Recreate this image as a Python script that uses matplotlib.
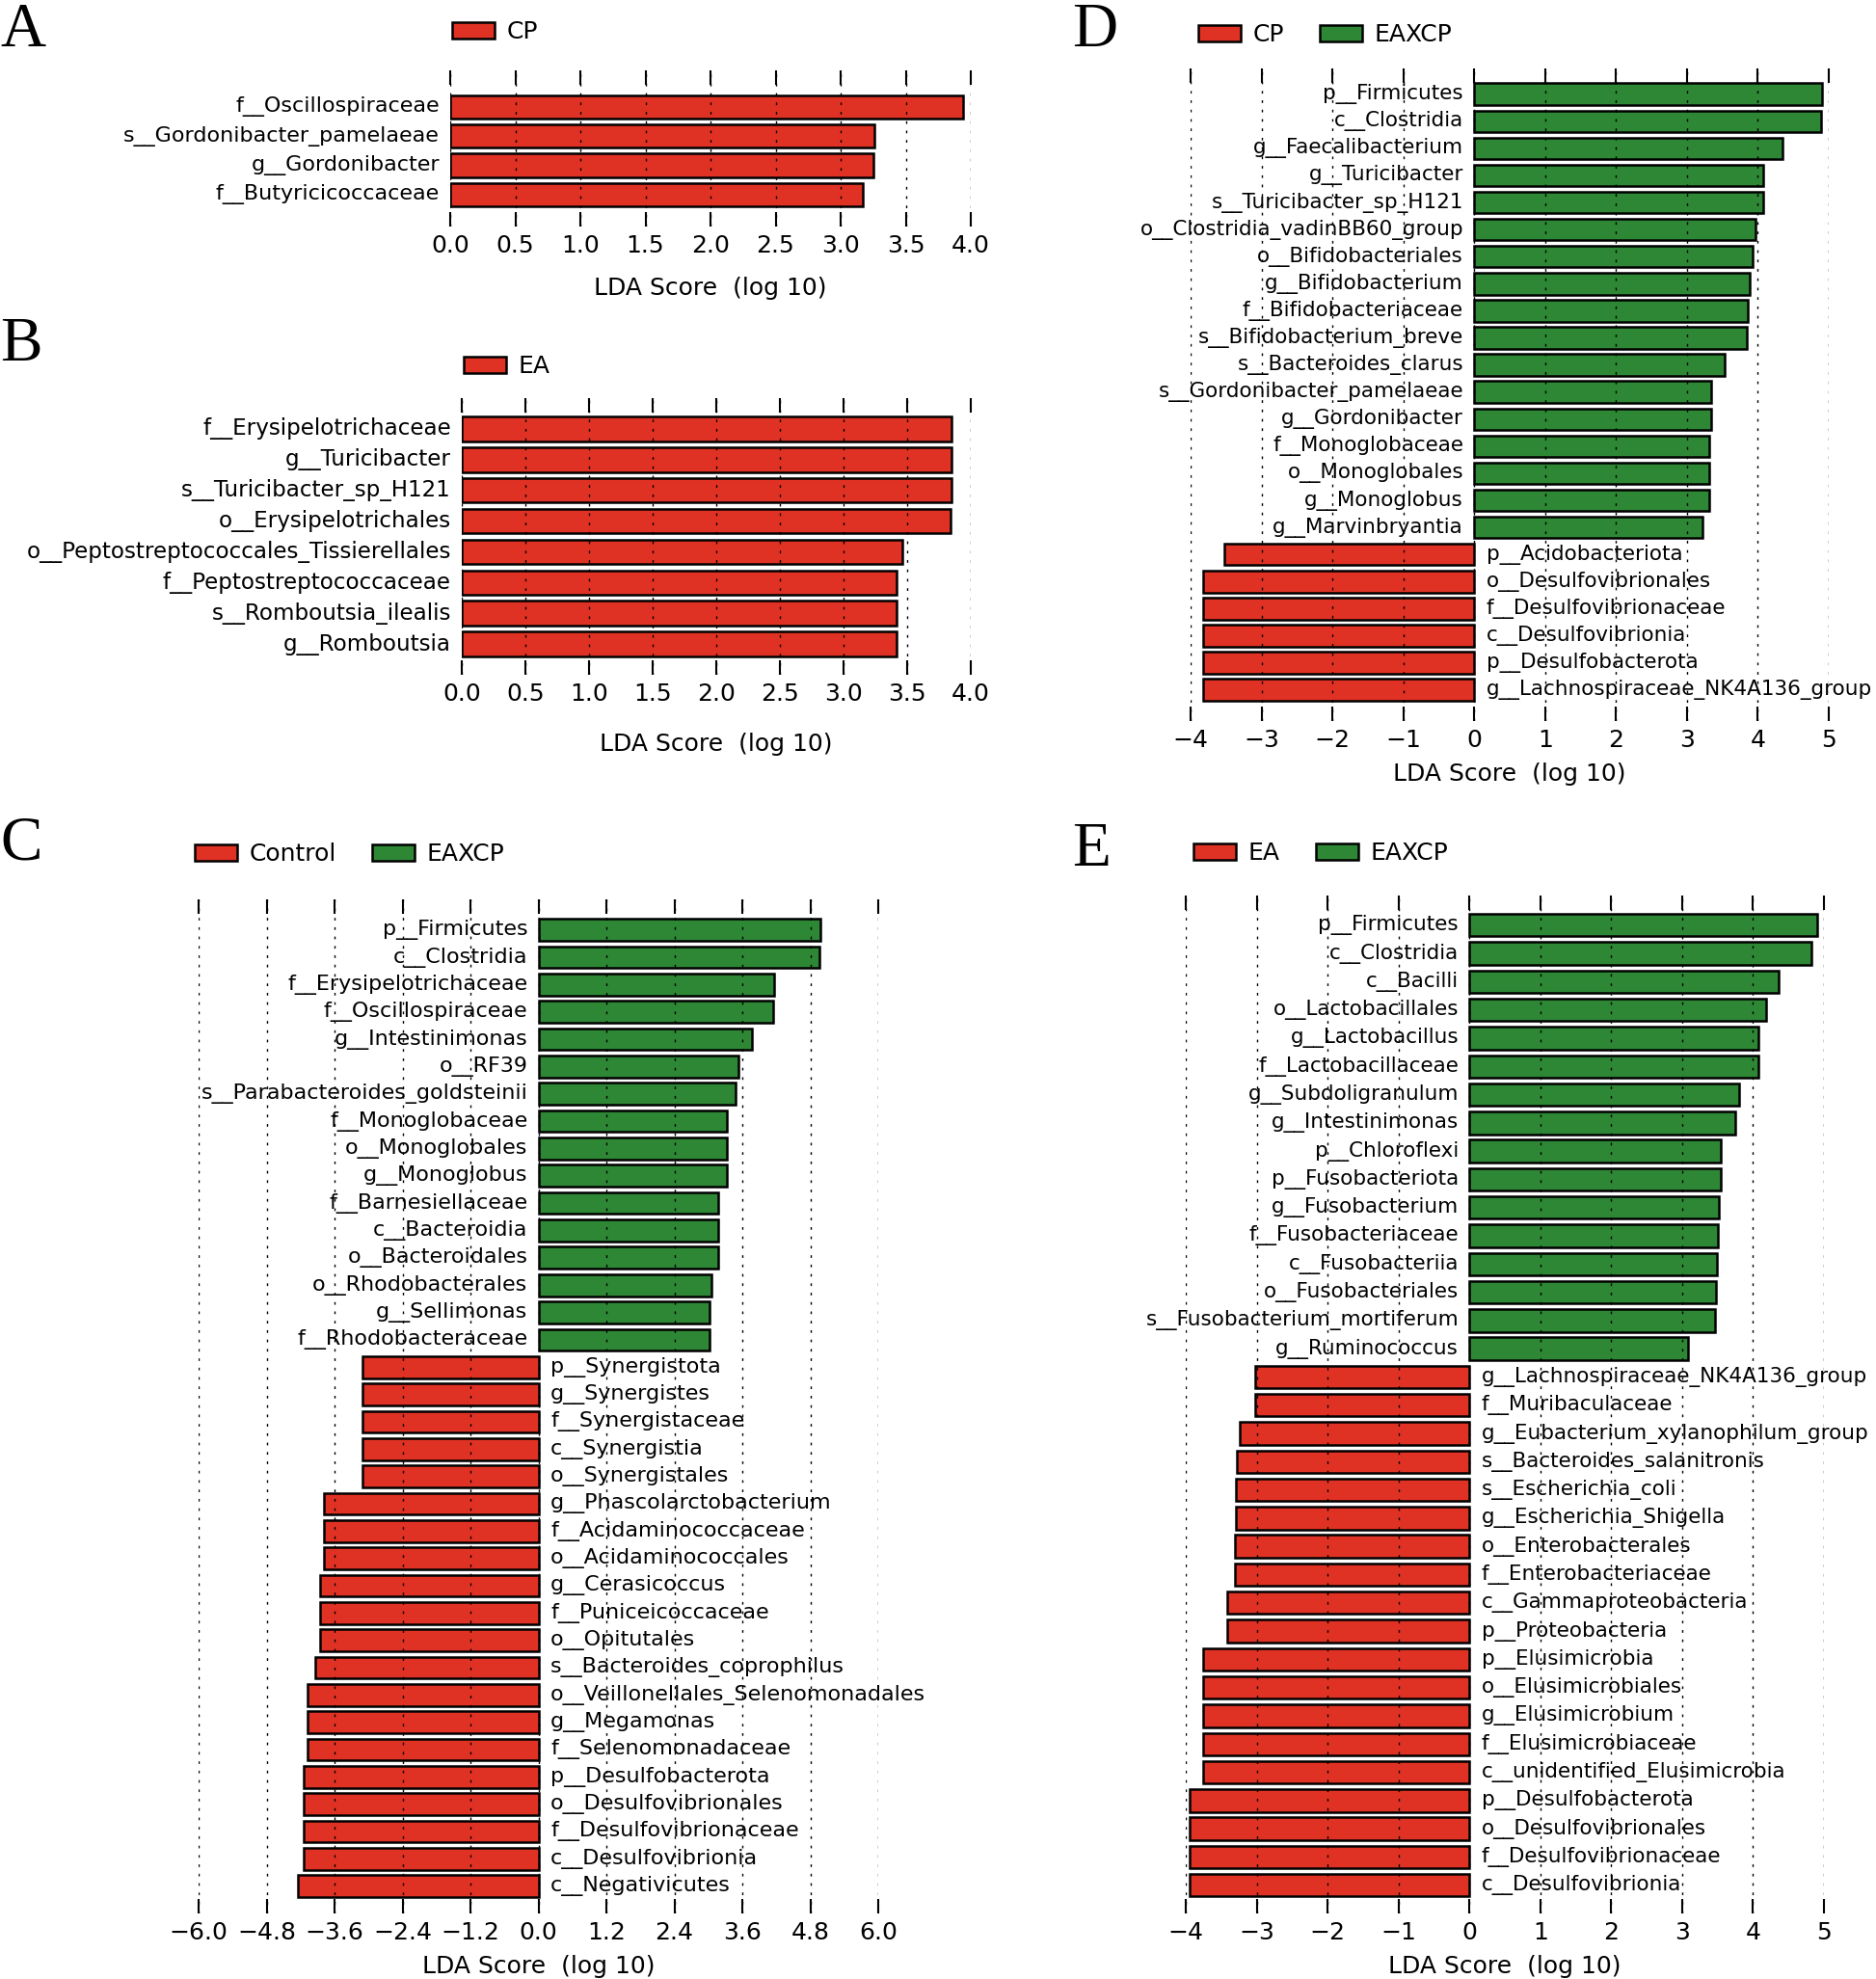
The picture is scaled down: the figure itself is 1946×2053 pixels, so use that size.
import numpy as np
import matplotlib
matplotlib.use('Agg')
import matplotlib.pyplot as plt
from matplotlib.patches import Patch

RED = '#e03224'
GREEN = '#2e8735'

# ---- panel A: CP ----
a_names = ['f__Oscillospiraceae', 's__Gordonibacter_pamelaeae', 'g__Gordonibacter',
           'f__Butyricicoccaceae']
a_vals = [3.94, 3.26, 3.25, 3.17]

# ---- panel B: EA ----
b_names = ['f__Erysipelotrichaceae', 'g__Turicibacter', 's__Turicibacter_sp_H121',
           'o__Erysipelotrichales', 'o__Peptostreptococcales_Tissierellales',
           'f__Peptostreptococcaceae', 's__Romboutsia_ilealis', 'g__Romboutsia']
b_vals = [3.85, 3.85, 3.85, 3.84, 3.46, 3.42, 3.42, 3.42]

# ---- panel C: Control vs EAXCP ----
c_green_names = ['p__Firmicutes', 'c__Clostridia', 'f__Erysipelotrichaceae',
                 'f__Oscillospiraceae', 'g__Intestinimonas', 'o__RF39',
                 's__Parabacteroides_goldsteinii', 'f__Monoglobaceae', 'o__Monoglobales',
                 'g__Monoglobus', 'f__Barnesiellaceae', 'c__Bacteroidia',
                 'o__Bacteroidales', 'o__Rhodobacterales', 'g__Sellimonas',
                 'f__Rhodobacteraceae']
c_green_vals = [4.98, 4.97, 4.16, 4.15, 3.77, 3.53, 3.48, 3.32, 3.32, 3.32,
                3.18, 3.18, 3.18, 3.06, 3.02, 3.02]
c_red_names = ['p__Synergistota', 'g__Synergistes', 'f__Synergistaceae', 'c__Synergistia',
               'o__Synergistales', 'g__Phascolarctobacterium', 'f__Acidaminococcaceae',
               'o__Acidaminococcales', 'g__Cerasicoccus', 'f__Puniceicoccaceae',
               'o__Opitutales', 's__Bacteroides_coprophilus',
               'o__Veillonellales_Selenomonadales', 'g__Megamonas', 'f__Selenomonadaceae',
               'p__Desulfobacterota', 'o__Desulfovibrionales', 'f__Desulfovibrionaceae',
               'c__Desulfovibrionia', 'c__Negativicutes']
c_red_vals = [-3.11, -3.11, -3.11, -3.11, -3.11, -3.78, -3.78, -3.78, -3.86, -3.86,
              -3.86, -3.94, -4.07, -4.07, -4.07, -4.14, -4.14, -4.14, -4.14, -4.24]
c_ticks = [-6.0, -4.8, -3.6, -2.4, -1.2, 0.0, 1.2, 2.4, 3.6, 4.8, 6.0]
c_ticklabels = ['\u22126.0', '\u22124.8', '\u22123.6', '\u22122.4', '\u22121.2', '0.0',
                '1.2', '2.4', '3.6', '4.8', '6.0']

# ---- panel D: CP vs EAXCP ----
d_green_names = ['p__Firmicutes', 'c__Clostridia', 'g__Faecalibacterium', 'g__Turicibacter',
                 's__Turicibacter_sp_H121', 'o__Clostridia_vadinBB60_group',
                 'o__Bifidobacteriales', 'g__Bifidobacterium', 'f__Bifidobacteriaceae',
                 's__Bifidobacterium_breve', 's__Bacteroides_clarus',
                 's__Gordonibacter_pamelaeae', 'g__Gordonibacter', 'f__Monoglobaceae',
                 'o__Monoglobales', 'g__Monoglobus', 'g__Marvinbryantia']
d_green_vals = [4.90, 4.89, 4.35, 4.07, 4.08, 3.97, 3.92, 3.88, 3.86, 3.84, 3.53,
                3.34, 3.34, 3.31, 3.31, 3.31, 3.22]
d_red_names = ['p__Acidobacteriota', 'o__Desulfovibrionales', 'f__Desulfovibrionaceae',
               'c__Desulfovibrionia', 'p__Desulfobacterota',
               'g__Lachnospiraceae_NK4A136_group']
d_red_vals = [-3.53, -3.83, -3.83, -3.83, -3.83, -3.83]

# ---- panel E: EA vs EAXCP ----
e_green_names = ['p__Firmicutes', 'c__Clostridia', 'c__Bacilli', 'o__Lactobacillales',
                 'g__Lactobacillus', 'f__Lactobacillaceae', 'g__Subdoligranulum',
                 'g__Intestinimonas', 'p__Chloroflexi', 'p__Fusobacteriota',
                 'g__Fusobacterium', 'f__Fusobacteriaceae', 'c__Fusobacteriia',
                 'o__Fusobacteriales', 's__Fusobacterium_mortiferum', 'g__Ruminococcus']
e_green_vals = [4.90, 4.82, 4.36, 4.18, 4.07, 4.07, 3.80, 3.75, 3.54, 3.54, 3.52,
                3.50, 3.49, 3.48, 3.46, 3.08]
e_red_names = ['g__Lachnospiraceae_NK4A136_group', 'f__Muribaculaceae',
               'g__Eubacterium_xylanophilum_group', 's__Bacteroides_salanitronis',
               's__Escherichia_coli', 'g__Escherichia_Shigella', 'o__Enterobacterales',
               'f__Enterobacteriaceae', 'c__Gammaproteobacteria', 'p__Proteobacteria',
               'p__Elusimicrobia', 'o__Elusimicrobiales', 'g__Elusimicrobium',
               'f__Elusimicrobiaceae', 'c__unidentified_Elusimicrobia',
               'p__Desulfobacterota', 'o__Desulfovibrionales', 'f__Desulfovibrionaceae',
               'c__Desulfovibrionia']
e_red_vals = [-3.02, -3.02, -3.24, -3.28, -3.29, -3.29, -3.30, -3.30, -3.41, -3.41,
              -3.75, -3.75, -3.75, -3.75, -3.75, -3.95, -3.95, -3.95, -3.95]

half_ticks = [0.0, 0.5, 1.0, 1.5, 2.0, 2.5, 3.0, 3.5, 4.0]
int_ticks = [-4, -3, -2, -1, 0, 1, 2, 3, 4, 5]

W, H = 1946, 2053
fig = plt.figure(figsize=(W / 100, H / 100), dpi=100)


def px_axes(left, top, right, bottom):
    return fig.add_axes([left / W, 1 - bottom / H, (right - left) / W, (bottom - top) / H])


def lda_panel(rect, names, vals, xlim, ticks, ticklabels, mt, mb, fs,
              legend_items, legend_xy, lpad=8):
    ax = px_axes(*rect)
    n = len(vals)
    y = np.arange(n)
    cols = [GREEN if v > 0 else RED for v in vals]
    if len(legend_items) == 1:
        cols = [RED] * n
    ax.barh(y, vals, height=0.8, color=cols, edgecolor='black', linewidth=1.8, zorder=1)
    ax.set_ylim(n - 0.5 + mb, -0.5 - mt)
    ax.set_xlim(*xlim)
    ax.set_xticks(ticks)
    ax.set_xticklabels(ticklabels, fontsize=18)
    ax.set_yticks([])
    for s in ax.spines.values():
        s.set_visible(False)
    ax.tick_params(axis='x', top=True, bottom=True, direction='in', length=11,
                   width=1.5, pad=6)
    ax.set_axisbelow(False)
    ax.grid(axis='x', color='black', linestyle=(0, (2, 5)), linewidth=1)
    for yi, (nm, v) in enumerate(zip(names, vals)):
        if v > 0:
            ax.annotate(nm, (0, yi), xytext=(-8, 0), textcoords='offset points',
                        ha='right', va='center', fontsize=fs, annotation_clip=False)
        else:
            ax.annotate(nm, (0, yi), xytext=(9, 0), textcoords='offset points',
                        ha='left', va='center', fontsize=fs, annotation_clip=False)
    ax.set_xlabel('LDA Score  (log 10)', fontsize=18, labelpad=lpad)
    handles = [Patch(facecolor=c, edgecolor='black', linewidth=1.8) for _, c in legend_items]
    labels = [l for l, _ in legend_items]
    fig.legend(handles, labels, loc='center left',
               bbox_to_anchor=(legend_xy[0] / W, 1 - legend_xy[1] / H),
               frameon=False, ncol=len(handles), fontsize=18, borderpad=0,
               borderaxespad=0, handlelength=1.75, handleheight=0.7,
               handletextpad=0.5, columnspacing=1.5)
    return ax


lda_panel((467, 73, 1007, 235), a_names, a_vals, (0, 4.0), half_ticks,
          ['%.1f' % t for t in half_ticks], 0.75, 0.6, 16,
          [('CP', RED)], (469, 33), lpad=14)
lda_panel((479, 413, 1007, 700), b_names, b_vals, (0, 4.0), half_ticks,
          ['%.1f' % t for t in half_ticks], 0.5, 0.5, 16.6,
          [('EA', RED)], (481, 380), lpad=20)
lda_panel((206, 933, 911, 1985), c_green_names + c_red_names, c_green_vals + c_red_vals,
          (-6.0, 6.0), c_ticks, c_ticklabels, 0.62, 0.5, 16,
          [('Control', RED), ('EAXCP', GREEN)], (202, 886))
lda_panel((1235, 71, 1897, 748), d_green_names + d_red_names, d_green_vals + d_red_vals,
          (-4, 5), int_ticks, ['\u2212%d' % -t if t < 0 else '%d' % t for t in int_ticks],
          0.45, 0.65, 15.5, [('CP', RED), ('EAXCP', GREEN)], (1243, 36))
lda_panel((1230, 929, 1892, 1985), e_green_names + e_red_names, e_green_vals + e_red_vals,
          (-4, 5), int_ticks, ['\u2212%d' % -t if t < 0 else '%d' % t for t in int_ticks],
          0.55, 0.5, 15.5, [('EA', RED), ('EAXCP', GREEN)], (1238, 885))

for letter, x, y in [('A', 0, 2), ('B', 0, 329), ('C', 0, 846), ('D', 1112, 2), ('E', 1112, 853)]:
    fig.text(x / W, 1 - y / H, letter, fontsize=47, family='Liberation Serif',
             ha='left', va='top')

fig.savefig('out.png', dpi=100)
